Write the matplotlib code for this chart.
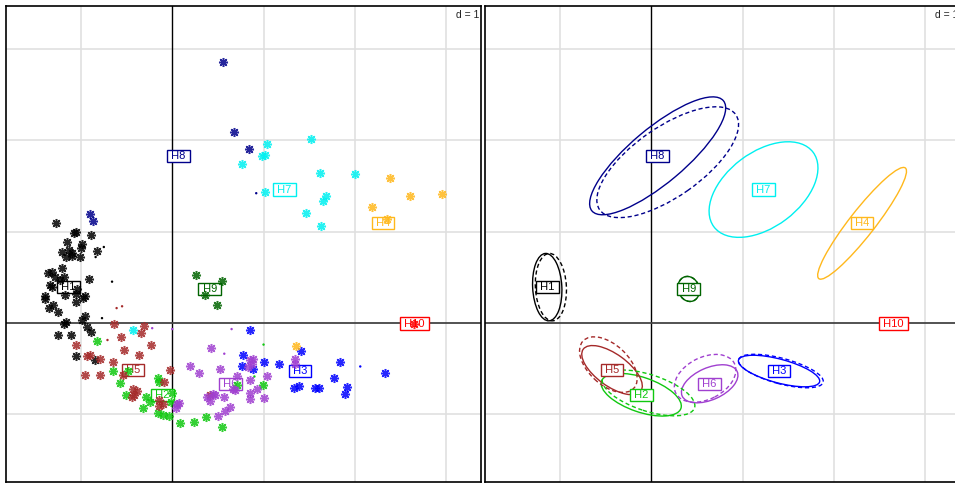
import matplotlib
matplotlib.use("Agg")
import matplotlib.pyplot as plt
from matplotlib.patches import Ellipse

plt.rcParams['font.family'] = ['Liberation Sans', 'DejaVu Sans']

# class names, colours and label (centroid) positions
names = ['H1', 'H2', 'H3', 'H4', 'H5', 'H6', 'H7', 'H8', 'H9', 'H10']
colors = ['#000000', '#10C810', '#0000FF', '#FFB81C', '#A52A2A',
          '#A040D0', '#00F0F0', '#00008B', '#006400', '#FF0000']
lab_x = [-1.14, -0.11, 1.40, 2.31, -0.43, 0.64, 1.23, 0.07, 0.41, 2.65]
lab_y = [0.39, -0.79, -0.53, 1.09, -0.52, -0.67, 1.46, 1.83, 0.37, -0.01]

# individuals (stars)
h1_x = [-1.27, -1.08, -1.05, -0.89, -1.15, -0.99, -1.00, -0.83, -1.21, -1.13,
        -1.10, -1.16, -1.10, -1.01, -1.21, -1.36, -1.32, -1.29, -1.23, -1.19,
        -1.34, -1.32, -0.91, -1.04, -1.18, -1.39, -1.40, -1.06, -0.98, -0.96,
        -1.06, -1.31, -1.35, -1.25, -0.96, -0.99, -1.19, -1.16, -0.93, -1.25,
        -1.11, -1.06, -0.85, -0.89]
h1_y = [1.09, 0.98, 1.00, 0.96, 0.88, 0.86, 0.82, 0.79, 0.77, 0.80,
        0.76, 0.72, 0.73, 0.72, 0.60, 0.54, 0.56, 0.50, 0.47, 0.50,
        0.41, 0.39, 0.48, 0.37, 0.30, 0.29, 0.26, 0.31, 0.27, 0.29,
        0.23, 0.19, 0.16, 0.12, 0.07, 0.03, -0.01, 0.01, -0.05, -0.13,
        -0.14, -0.37, -0.41, -0.10]
h2_x = [-0.83, -0.65, -0.48, -0.57, -0.51, -0.29, -0.24, -0.32, -0.16, -0.14,
        0.00, -0.01, -0.16, -0.10, -0.04, 0.09, 0.24, 0.37, 0.54, 0.71, 0.99]
h2_y = [-0.20, -0.53, -0.53, -0.66, -0.79, -0.82, -0.87, -0.94, -0.61, -0.65,
        -0.77, -0.87, -0.99, -1.01, -1.02, -1.10, -1.09, -1.03, -1.14, -0.68, -0.68]
h3_x = [0.85, 0.78, 0.76, 0.88, 1.00, 1.17, 1.41, 1.39, 1.33, 1.56,
        1.61, 1.84, 1.77, 1.92, 1.89, 2.33]
h3_y = [-0.08, -0.35, -0.48, -0.51, -0.43, -0.45, -0.31, -0.69, -0.72, -0.72,
        -0.72, -0.43, -0.61, -0.70, -0.78, -0.55]
h4_x = [2.39, 2.60, 2.96, 2.19, 2.35, 1.36]
h4_y = [1.59, 1.39, 1.41, 1.27, 1.14, -0.26]
h5_x = [-0.64, -0.31, -0.34, -0.56, -1.06, -0.23, -0.53, -0.36, -0.93, -0.90,
        -0.79, -0.65, -0.96, -0.79, -0.54, -0.03, -0.09, -0.43, -0.39, -0.44,
        -0.42, -0.14, -0.10, -0.15, 0.41]
h5_y = [-0.01, -0.04, -0.11, -0.16, -0.24, -0.24, -0.30, -0.35, -0.37, -0.35,
        -0.40, -0.43, -0.57, -0.57, -0.57, -0.52, -0.65, -0.73, -0.75, -0.81,
        -0.79, -0.85, -0.89, -0.91, -0.79]
h6_x = [0.42, 0.19, 0.29, 0.52, 0.71, 0.89, 0.85, 0.87, 0.83, 0.85,
        1.04, 1.35, 1.35, 0.67, 0.69, 0.85, 0.93, 0.38, 0.41, 0.45,
        0.47, 0.57, 0.85, 1.01, 0.63, 0.58, 0.50, 0.07, 0.04, 0.05]
h6_y = [-0.28, -0.47, -0.55, -0.51, -0.58, -0.40, -0.41, -0.45, -0.49, -0.63,
        -0.59, -0.40, -0.45, -0.73, -0.74, -0.77, -0.73, -0.81, -0.86, -0.78,
        -0.79, -0.81, -0.84, -0.83, -0.92, -0.97, -1.02, -0.88, -0.94, -0.89]
h7_x = [1.52, 1.04, 0.98, 1.02, 0.76, 1.62, 2.00, 1.02, 1.68, 1.65, 1.47, 1.63, -0.43]
h7_y = [2.01, 1.96, 1.83, 1.84, 1.74, 1.64, 1.63, 1.43, 1.39, 1.33, 1.20, 1.06, -0.08]
h8_x = [0.56, 0.68, 0.84, -0.90, -0.87]
h8_y = [2.86, 2.09, 1.90, 1.19, 1.12]
h9_x = [0.26, 0.55, 0.36, 0.49]
h9_y = [0.52, 0.46, 0.30, 0.19]
h10_x = [2.65]
h10_y = [-0.01]

# small dots
dot_x = [-0.75, -0.84, -0.66, -0.77, -0.61, -0.55, -0.71, 1.00, 0.90,
         -0.22, 0.00, 0.65, 0.57, 2.06, 0.92]
dot_y = [0.83, 0.72, 0.45, 0.05, 0.16, 0.18, -0.19, -0.24, -0.59,
         -0.06, -0.07, -0.07, -0.34, -0.48, 1.42]
dot_c = ['#000000', '#000000', '#000000', '#000000', '#A52A2A', '#A52A2A', '#A52A2A',
         '#10C810', '#10C810', '#A040D0', '#A040D0', '#A040D0', '#A040D0',
         '#0000FF', '#00008B']

# ellipses (solid): centre, semi-axes, angle
ell_cls = ['H1', 'H2', 'H3', 'H4', 'H5', 'H6', 'H7', 'H8', 'H9']
ell_x = [-1.14, -0.11, 1.40, 2.31, -0.43, 0.64, 1.23, 0.07, 0.41]
ell_y = [0.39, -0.79, -0.53, 1.09, -0.52, -0.67, 1.46, 1.83, 0.37]
ell_a = [0.37, 0.46, 0.46, 0.77, 0.39, 0.33, 0.68, 0.94, 0.14]
ell_b = [0.16, 0.19, 0.13, 0.14, 0.175, 0.175, 0.41, 0.30, 0.115]
ell_ang = [93, -19, -15, 52, -36, 24, 37, 40, 110]
# dashed ellipses
dsh_cls = ['H1', 'H2', 'H3', 'H5', 'H6', 'H8', 'H9']
dsh_x = [-1.10, -0.03, 1.42, -0.47, 0.59, 0.18, 0.41]
dsh_y = [0.39, -0.77, -0.53, -0.46, -0.61, 1.76, 0.37]
dsh_a = [0.37, 0.53, 0.48, 0.38, 0.36, 0.91, 0.14]
dsh_b = [0.17, 0.20, 0.14, 0.22, 0.23, 0.38, 0.115]
dsh_ang = [93, -18, -15, -43, 27, 35, 110]

points = [(h1_x, h1_y), (h2_x, h2_y), (h3_x, h3_y), (h4_x, h4_y), (h5_x, h5_y),
          (h6_x, h6_y), (h7_x, h7_y), (h8_x, h8_y), (h9_x, h9_y), (h10_x, h10_y)]

W, H = 955, 483
fig = plt.figure(figsize=(W / 100, H / 100), dpi=100)
ax1 = fig.add_axes([6 / W, 1 / H, 475 / W, 476 / H])
ax2 = fig.add_axes([485 / W, 1 / H, 475 / W, 476 / H])

XL = (-1.822, 3.383)
YL = (-1.747, 3.473)


def base(ax):
    ax.set_xlim(*XL)
    ax.set_ylim(*YL)
    for g in [-1, 1, 2, 3]:
        ax.axvline(g, color='#E0E0E0', lw=1.2, zorder=0)
    for g in [-1, 1, 2, 3]:
        ax.axhline(g, color='#E0E0E0', lw=1.2, zorder=0)
    ax.axvline(0, color='black', lw=1, zorder=1)
    ax.axhline(0, color='#444444', lw=1.3, zorder=1)
    ax.set_xticks([])
    ax.set_yticks([])
    for s in ax.spines.values():
        s.set_linewidth(1.2)
        s.set_color('black')
    ax.text(0.996, 0.992, 'd = 1', transform=ax.transAxes, ha='right', va='top',
            fontsize=7.5, color='#222222', zorder=6,
            bbox=dict(boxstyle='square,pad=0.1', fc='white', ec='none'))


def labels(ax, z):
    for n, c, x, y in zip(names, colors, lab_x, lab_y):
        ax.text(x, y, ' ' + n + ' ', color=c, fontsize=8, ha='center', va='center',
                zorder=z, bbox=dict(boxstyle='square,pad=0.1', fc='white', ec=c, lw=1))


base(ax1)
base(ax2)

# left: individuals
labels(ax1, 3)
ax1.scatter(dot_x, dot_y, s=3, c=dot_c, lw=0, zorder=4)
for (px, py), c in zip(points, colors):
    ax1.plot(px, py, ls='none', marker=(8, 2, 0), ms=6.5, mew=1.1, color=c,
             alpha=0.85, zorder=4)

# right: ellipses
cmap = dict(zip(names, colors))
for n, x, y, a, b, t in zip(ell_cls, ell_x, ell_y, ell_a, ell_b, ell_ang):
    ax2.add_patch(Ellipse((x, y), 2 * a, 2 * b, angle=t, fill=False,
                          ec=cmap[n], lw=1, zorder=2))
for n, x, y, a, b, t in zip(dsh_cls, dsh_x, dsh_y, dsh_a, dsh_b, dsh_ang):
    ax2.add_patch(Ellipse((x, y), 2 * a, 2 * b, angle=t, fill=False,
                          ec=cmap[n], lw=1, ls=(0, (3, 2)), zorder=2))
labels(ax2, 4)

fig.savefig('out.png', dpi=100)
